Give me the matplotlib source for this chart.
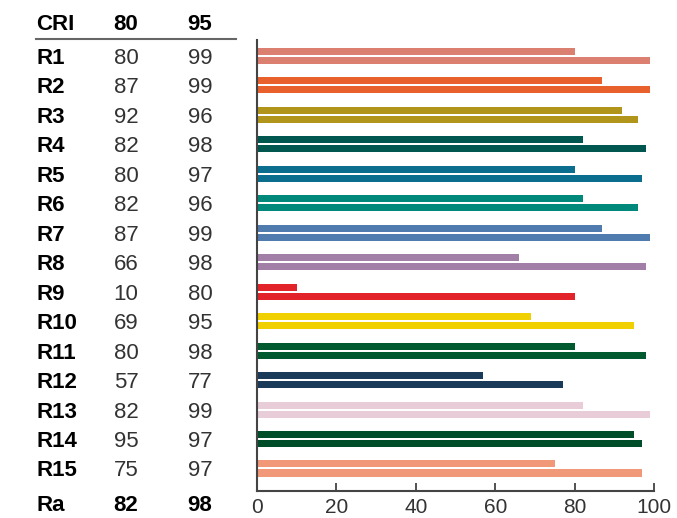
import numpy as np
import matplotlib.pyplot as plt
from matplotlib.transforms import blended_transform_factory

plt.rcParams['font.family'] = ['Liberation Sans', 'DejaVu Sans']

# CRI table values
rows = ['R1', 'R2', 'R3', 'R4', 'R5', 'R6', 'R7', 'R8', 'R9', 'R10',
        'R11', 'R12', 'R13', 'R14', 'R15']
cri80 = [80, 87, 92, 82, 80, 82, 87, 66, 10, 69, 80, 57, 82, 95, 75]
cri95 = [99, 99, 96, 98, 97, 96, 99, 98, 80, 95, 98, 77, 99, 97, 97]
ra = [82, 98]
colors = ['#db8070', '#e8612c', '#b1951a', '#00574f', '#0b6e8e', '#00897b',
          '#4f7bae', '#a27fa6', '#e3232a', '#f0d000', '#00592f', '#1a3a5a',
          '#e8ccd8', '#004d2a', '#f09878']

fig = plt.figure(figsize=(6.77, 5.18), dpi=100)
ax = fig.add_axes([257/677, 1 - 491/518, 397/677, 451/518])

y = np.arange(len(rows))
h = 0.238
off = 0.153
ax.barh(y - off, cri80, height=h, color=colors, clip_on=False)
ax.barh(y + off, cri95, height=h, color=colors, clip_on=False)

ax.set_xlim(0, 100)
ax.set_ylim(14.764, -0.543)
ax.set_yticks([])
ax.set_xticks([0, 20, 40, 60, 80, 100])
ax.tick_params(axis='x', direction='in', length=6, width=1.2, color='#333333',
               labelsize=15, labelcolor='#333333', pad=5)
for s in ['top', 'right']:
    ax.spines[s].set_visible(False)
for s in ['left', 'bottom']:
    ax.spines[s].set_linewidth(1.5)
    ax.spines[s].set_color('#444444')

# table on the left
fs = 16
tr = blended_transform_factory(fig.transFigure, ax.transData)
x_lab, x80, x95 = 36/677, 126/677, 200/677
for i, r in enumerate(rows):
    fig.text(x_lab, i, r, transform=tr, fontsize=fs, fontweight='bold',
             ha='left', va='center_baseline', color='black')
    fig.text(x80, i, str(cri80[i]), transform=tr, fontsize=fs,
             ha='center', va='center_baseline', color='#333333')
    fig.text(x95, i, str(cri95[i]), transform=tr, fontsize=fs,
             ha='center', va='center_baseline', color='#333333')

yh = 1 - 22/518
fig.text(x_lab, yh, 'CRI', fontsize=fs, fontweight='bold', ha='left', va='center_baseline')
fig.text(x80, yh, '80', fontsize=fs, fontweight='bold', ha='center', va='center_baseline')
fig.text(x95, yh, '95', fontsize=fs, fontweight='bold', ha='center', va='center_baseline')
fig.add_artist(plt.Line2D([36/677, 236/677], [1 - 39/518, 1 - 39/518],
                          color='#666666', lw=1.5))

yr = 1 - 503/518
fig.text(x_lab, yr, 'Ra', fontsize=fs, fontweight='bold', ha='left', va='center_baseline')
fig.text(x80, yr, str(ra[0]), fontsize=fs, fontweight='bold', ha='center', va='center_baseline')
fig.text(x95, yr, str(ra[1]), fontsize=fs, fontweight='bold', ha='center', va='center_baseline')

fig.savefig('out.png', dpi=100)
